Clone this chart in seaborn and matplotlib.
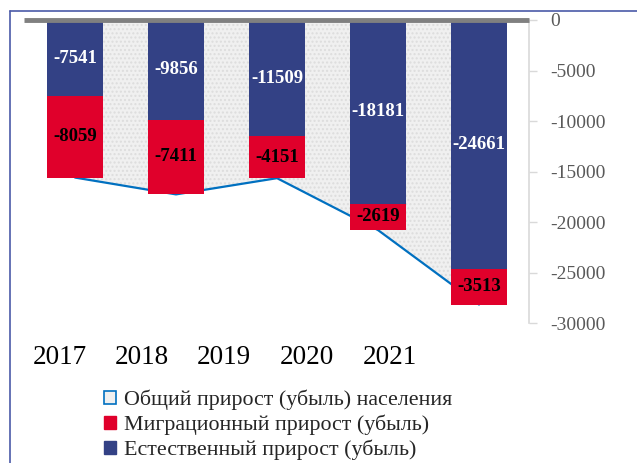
import matplotlib
matplotlib.use("Agg")
import numpy as np
import matplotlib.pyplot as plt
import seaborn as sns
from matplotlib.patches import Patch
from matplotlib.lines import Line2D

# Данные
years = ["2017", "2018", "2019", "2020", "2021"]
natural = [-7541, -9856, -11509, -18181, -24661]
migration = [-8059, -7411, -4151, -2619, -3513]

total = [n + m for n, m in zip(natural, migration)]

c_blue = "#334185"
c_red = "#E0002B"
c_line = "#0070C0"
c_area = "#F0F0F0"
serif = "Liberation Serif"

sns.set_style("white")
plt.rcParams["font.family"] = [serif, "DejaVu Serif"]
plt.rcParams["axes.unicode_minus"] = False
plt.rcParams["hatch.color"] = "#DDDDDD"

fig = plt.figure(figsize=(6.37, 4.63), dpi=100)
W, H = 637, 463
ax = fig.add_axes([24 / W, 1 - 323 / H, (529 - 24) / W, (323 - 20) / H])

x = np.arange(len(years))

# Общий прирост - область
ax.fill_between(x, total, 0, facecolor=c_area, edgecolor="#DDDDDD",
                linewidth=0, hatch="....", zorder=1)
sns.lineplot(x=x, y=total, color=c_line, linewidth=1.6, ax=ax, zorder=2)

# Столбцы: сначала полная высота (красный), затем естественный (синий)
sns.barplot(x=years, y=total, color=c_red, saturation=1, width=0.555,
            linewidth=0, edgecolor="none", ax=ax, zorder=3)
sns.barplot(x=years, y=natural, color=c_blue, saturation=1, width=0.555,
            linewidth=0, edgecolor="none", ax=ax, zorder=4)

# Подписи
for i in range(len(years)):
    ax.text(i, natural[i] / 2, str(natural[i]), ha="center", va="center",
            color="white", fontsize=13.5, fontweight="bold", zorder=5)
    ax.text(i, natural[i] + migration[i] / 2, str(migration[i]), ha="center",
            va="center", color="black", fontsize=13.5, fontweight="bold",
            zorder=5)

ax.set_xlim(-0.505, 4.495)
ax.set_ylim(-30000, 0)
ax.set_yticks(range(0, -30001, -5000))
ax.yaxis.tick_right()
ax.tick_params(axis="y", which="both", right=True, length=6, width=1,
               color="#D9D9D9", labelcolor="#595959", labelsize=14, pad=9)
ax.set_xticks([])
ax.set_xlabel("")
ax.set_ylabel("")
for s in ["left", "bottom", "top"]:
    ax.spines[s].set_visible(False)
ax.spines["right"].set_color("#D9D9D9")
ax.spines["right"].set_linewidth(1.2)
ax.plot([-0.505, 4.495], [0, 0], color="#808080", linewidth=3.5,
        solid_capstyle="butt", zorder=6, clip_on=False)

# Годы под графиком
label_x = [60, 142, 224, 307, 390]
for lx, yr in zip(label_x, years):
    fig.text(lx / W, 1 - 357 / H, yr, ha="center", va="center",
             fontsize=19.5, color="black")

# Рамка
fig.add_artist(Line2D([10 / W, 1], [1 - 11 / H, 1 - 11 / H],
                      transform=fig.transFigure, color="#4A5AA8", linewidth=1.2))
fig.add_artist(Line2D([10 / W, 10 / W], [0, 1 - 11 / H],
                      transform=fig.transFigure, color="#4A5AA8", linewidth=1.2))

# Легенда
handles = [
    Patch(facecolor=c_area, edgecolor=c_line, linewidth=1.2),
    Patch(facecolor=c_red, edgecolor=c_red),
    Patch(facecolor=c_blue, edgecolor=c_blue),
]
names = ["Общий прирост (убыль) населения",
         "Миграционный прирост (убыль)",
         "Естественный прирост (убыль)"]
fig.legend(handles, names, loc="upper left",
           bbox_to_anchor=(104 / W, 1 - 390 / H), frameon=False,
           fontsize=15.8, handlelength=0.55, handleheight=0.55,
           handletextpad=0.35, labelspacing=0.2, borderpad=0, borderaxespad=0)

fig.savefig("out.png", dpi=100)
